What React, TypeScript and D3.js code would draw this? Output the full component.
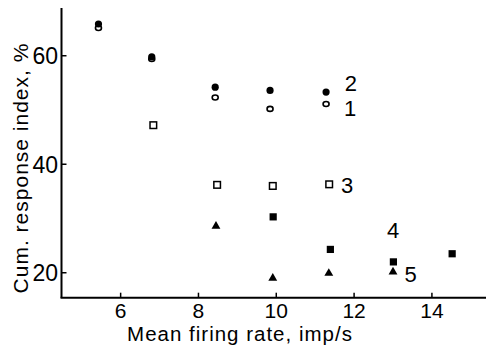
import React from "react";
import * as d3 from "d3";

const xTicks = [6, 8, 10, 12, 14];
const yTicks = [20, 40, 60];

const s1x = [5.43, 6.8, 8.43, 9.84, 11.28];
const s1y = [65.1, 59.4, 52.3, 50.2, 51.1];
const s2x = [5.43, 6.8, 8.43, 9.84, 11.28];
const s2y = [65.85, 59.8, 54.2, 53.6, 53.3];
const s3x = [6.84, 8.48, 9.91, 11.36];
const s3y = [47.2, 36.2, 36.0, 36.3];
const s4x = [9.92, 11.39, 13.01, 14.52];
const s4y = [30.3, 24.3, 22.0, 23.5];
const s5x = [8.45, 9.91, 11.35, 13.0];
const s5y = [28.6, 19.0, 19.9, 20.15];

const seriesLabels = ["1", "2", "3", "4", "5"];
const labelX = [11.9, 11.92, 11.82, 13.0, 13.45];
const labelY = [50.4, 55.0, 36.1, 27.9, 19.8];

const W = 486;
const H = 351;
const font = "'Liberation Sans', Arial, sans-serif";

export default function App() {
  const x = d3.scaleLinear().domain([4.48, 15.39]).range([61.5, 486]);
  const y = d3.scaleLinear().domain([15.4, 68.8]).range([297.7, 8]);
  const tri = d3.symbol().type(d3.symbolTriangle).size(34)();

  const zip = (xs: number[], ys: number[]) => xs.map((v, i) => [x(v), y(ys[i])]);

  return (
    <svg
      width={W}
      height={H}
      style={{ position: "absolute", left: 0, top: 0, background: "#fff" }}
    >
      {/* axes */}
      <line x1={x(4.48)} x2={x(4.48)} y1={y(68.8)} y2={y(15.4)} stroke="#000" strokeWidth={2} />
      <line x1={x(4.48) - 1} x2={W} y1={y(15.4)} y2={y(15.4)} stroke="#000" strokeWidth={2} />
      {yTicks.map((t) => (
        <g key={"y" + t}>
          <line x1={x(4.48)} x2={x(4.48) + 5} y1={y(t)} y2={y(t)} stroke="#000" strokeWidth={1.5} />
          <text x={58} y={y(t)} dy="0.36em" textAnchor="end" fontFamily={font} fontSize={23}>
            {t}
          </text>
        </g>
      ))}
      {xTicks.map((t) => (
        <g key={"x" + t}>
          <line x1={x(t)} x2={x(t)} y1={y(15.4)} y2={y(15.4) - 5} stroke="#000" strokeWidth={1.5} />
          <text x={x(t)} y={318} textAnchor="middle" fontFamily={font} fontSize={21}>
            {t}
          </text>
        </g>
      ))}
      <text
        x={240}
        y={341}
        textAnchor="middle"
        fontFamily={font}
        fontSize={20.5}
        letterSpacing={1}
      >
        Mean firing rate, imp/s
      </text>
      <text
        transform={`translate(28,168) rotate(-90)`}
        textAnchor="middle"
        fontFamily={font}
        fontSize={21}
        letterSpacing={1}
      >
        Cum. response index, %
      </text>

      {/* series 1: open circles */}
      {zip(s1x, s1y).map(([cx, cy], i) => (
        <ellipse key={"a" + i} cx={cx} cy={cy} rx={3} ry={2.5} fill="#fff" stroke="#000" strokeWidth={1.6} />
      ))}
      {/* series 2: filled circles */}
      {zip(s2x, s2y).map(([cx, cy], i) => (
        <circle key={"b" + i} cx={cx} cy={cy} r={3.6} fill="#000" />
      ))}
      {/* series 3: open squares */}
      {zip(s3x, s3y).map(([cx, cy], i) => (
        <rect key={"c" + i} x={cx - 3.3} y={cy - 3.3} width={6.6} height={6.6} fill="#fff" stroke="#000" strokeWidth={1.5} />
      ))}
      {/* series 4: filled squares */}
      {zip(s4x, s4y).map(([cx, cy], i) => (
        <rect key={"d" + i} x={cx - 3.6} y={cy - 3.6} width={7.2} height={7.2} fill="#000" />
      ))}
      {/* series 5: filled triangles */}
      {zip(s5x, s5y).map(([cx, cy], i) => (
        <path key={"e" + i} d={tri || ""} transform={`translate(${cx},${cy})`} fill="#000" />
      ))}

      {seriesLabels.map((l, i) => (
        <text
          key={"l" + l}
          x={x(labelX[i])}
          y={y(labelY[i])}
          dy="0.36em"
          textAnchor="middle"
          fontFamily={font}
          fontSize={22}
        >
          {l}
        </text>
      ))}
    </svg>
  );
}
